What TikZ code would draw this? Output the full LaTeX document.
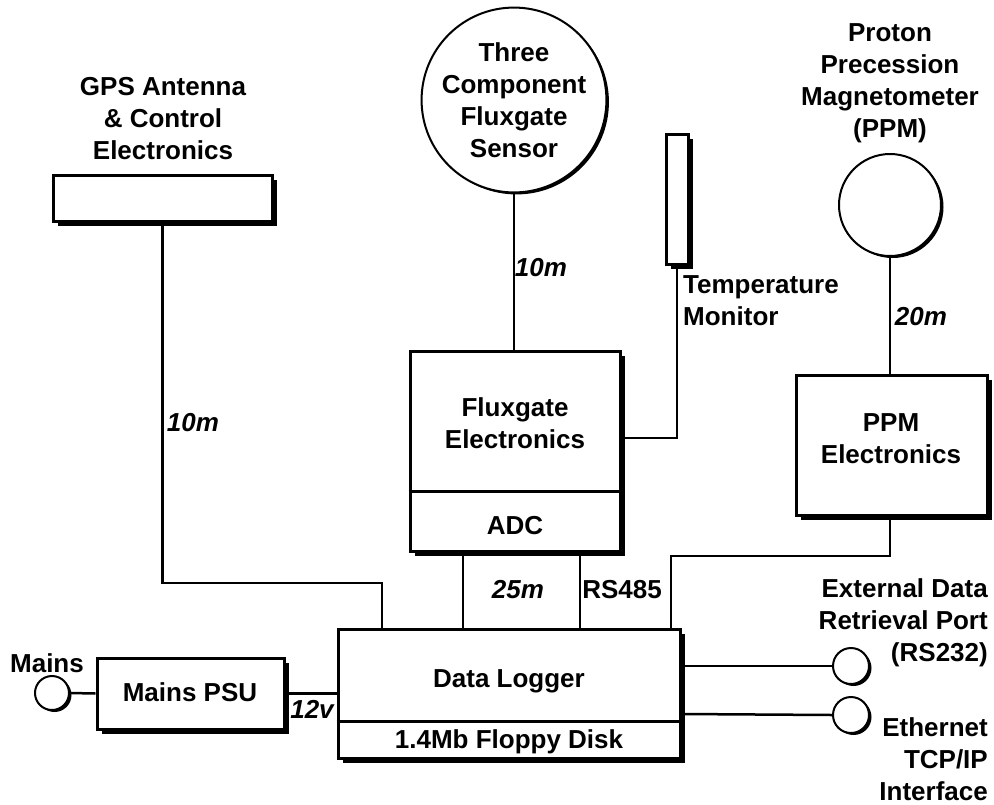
\documentclass[tikz,border=0pt]{standalone}
\usepackage{fontspec}
\setmainfont{Liberation Sans}
\usetikzlibrary{shadows}

\begin{document}
\begin{tikzpicture}[x=1pt, y=-1pt,
	box/.style={draw, fill=white, line width=3pt, drop shadow={shadow xshift=5pt, shadow yshift=-5pt, fill=black, opacity=1}},
	port/.style={circle, draw, fill=white, line width=2pt, drop shadow={shadow xshift=2.5pt, shadow yshift=-2pt, fill=black, opacity=1}},
	lbl/.style={inner sep=0, align=center, font=\bfseries\fontsize{26}{32}\selectfont},
	len/.style={inner sep=0, font=\bfseries\itshape\fontsize{26}{32}\selectfont},
	wire/.style={line width=2.5pt}]
	\useasboundingbox (0,0) rectangle (994,804);

	% GPS
	\node[box, minimum width=219pt, minimum height=46pt] (gps) at (162.5,198) {};
	\node[lbl, anchor=north] (gpstext) at (163,77) {GPS Antenna\\\& Control\\Electronics};

	% fluxgate sensor and temperature probe
	\node[port, lbl, minimum size=182pt] (sensor) at (514,100) {Three\\Component\\Fluxgate\\Sensor};
	\node[box, minimum width=22pt, minimum height=130pt] (temp) at (677,199) {};
	\node[lbl, align=left, anchor=north west] (temptext) at (683,275) {Temperature\\Monitor};

	% proton precession magnetometer
	\node[port, minimum size=102pt] (ppm) at (890,205) {};
	\node[lbl, anchor=north] (ppmtext) at (890,23) {Proton\\Precession\\Magnetometer\\(PPM)};

	\node[box, minimum width=210pt, minimum height=200pt] (flux) at (515,451) {};
	\draw[line width=3pt] (flux.west |- 0,491) -- (flux.east |- 0,491);
	\node[lbl] (fluxtext) at (515,423) {Fluxgate\\Electronics};
	\node[lbl, anchor=base] (adc) at (515,534) {ADC};

	\node[box, minimum width=191pt, minimum height=140pt] (ppmbox) at (891.5,445) {};
	\node[lbl] (ppmboxtext) at (891,438.5) {PPM\\Electronics};

	\node[box, minimum width=342pt, minimum height=129pt] (logger) at (509,693.5) {};
	\draw[line width=3pt] (logger.west |- 0,721) -- (logger.east |- 0,721);
	\node[lbl, anchor=base] (loggertext) at (509,687) {Data Logger};
	\node[lbl, anchor=base] (disk) at (509,748) {1.4Mb Floppy Disk};

	\node[box, minimum width=187pt, minimum height=71pt] (psu) at (190.5,693.5) {};
	\node[lbl, anchor=base] (psutext) at (190,701) {Mains PSU};

	% ports
	\node[port, minimum size=34pt] (mains) at (52,693) {};
	\node[lbl] (mainstext) at (47,663) {Mains};
	\node[port, minimum size=36pt] (rsport) at (851,666) {};
	\node[port, minimum size=36pt] (ethport) at (851,715) {};
	\node[lbl, align=right, anchor=north east] (rstext) at (988,578) {External Data\\Retrieval Port\\(RS232)};
	\node[lbl, align=right, anchor=north east] (ethtext) at (988,717) {Ethernet\\TCP/IP\\Interface};

	% cables
	\draw[wire] (gps.south) |- (382,583) -- (382,583 |- logger.north);
	\draw[wire] (sensor.south) -- (sensor.south |- flux.north);
	\draw[wire] (temp.south) |- (flux.east |- 0,438);
	\draw[wire] (ppm.south) -- (ppm.south |- ppmbox.north);
	\draw[wire] (ppmbox.south -| ppm.south) |- (671,556) -- (671,556 |- logger.north);
	\draw[wire] (flux.south -| 463,0) -- (logger.north -| 463,0);
	\draw[wire] (flux.south -| 580,0) -- (logger.north -| 580,0);
	\draw[wire] (logger.east |- 0,666) -- (rsport.west);
	\draw[wire] (logger.east |- 0,714) -- (ethport.west);
	\draw[wire] (mains.east) -- (psu.west);
	\draw[wire] (psu.east) -- (logger.west);

	\node[len] (gpslen) at (193,423) {10m};
	\node[len] (sensorlen) at (541,268) {10m};
	\node[len] (ppmlen) at (921,317) {20m};
	\node[len] (fluxlen) at (518,590) {25m};
	\node[lbl] (rs485) at (622,590) {RS485};
	\node[len] (psulen) at (312,709) {12v};
\end{tikzpicture}
\end{document}
